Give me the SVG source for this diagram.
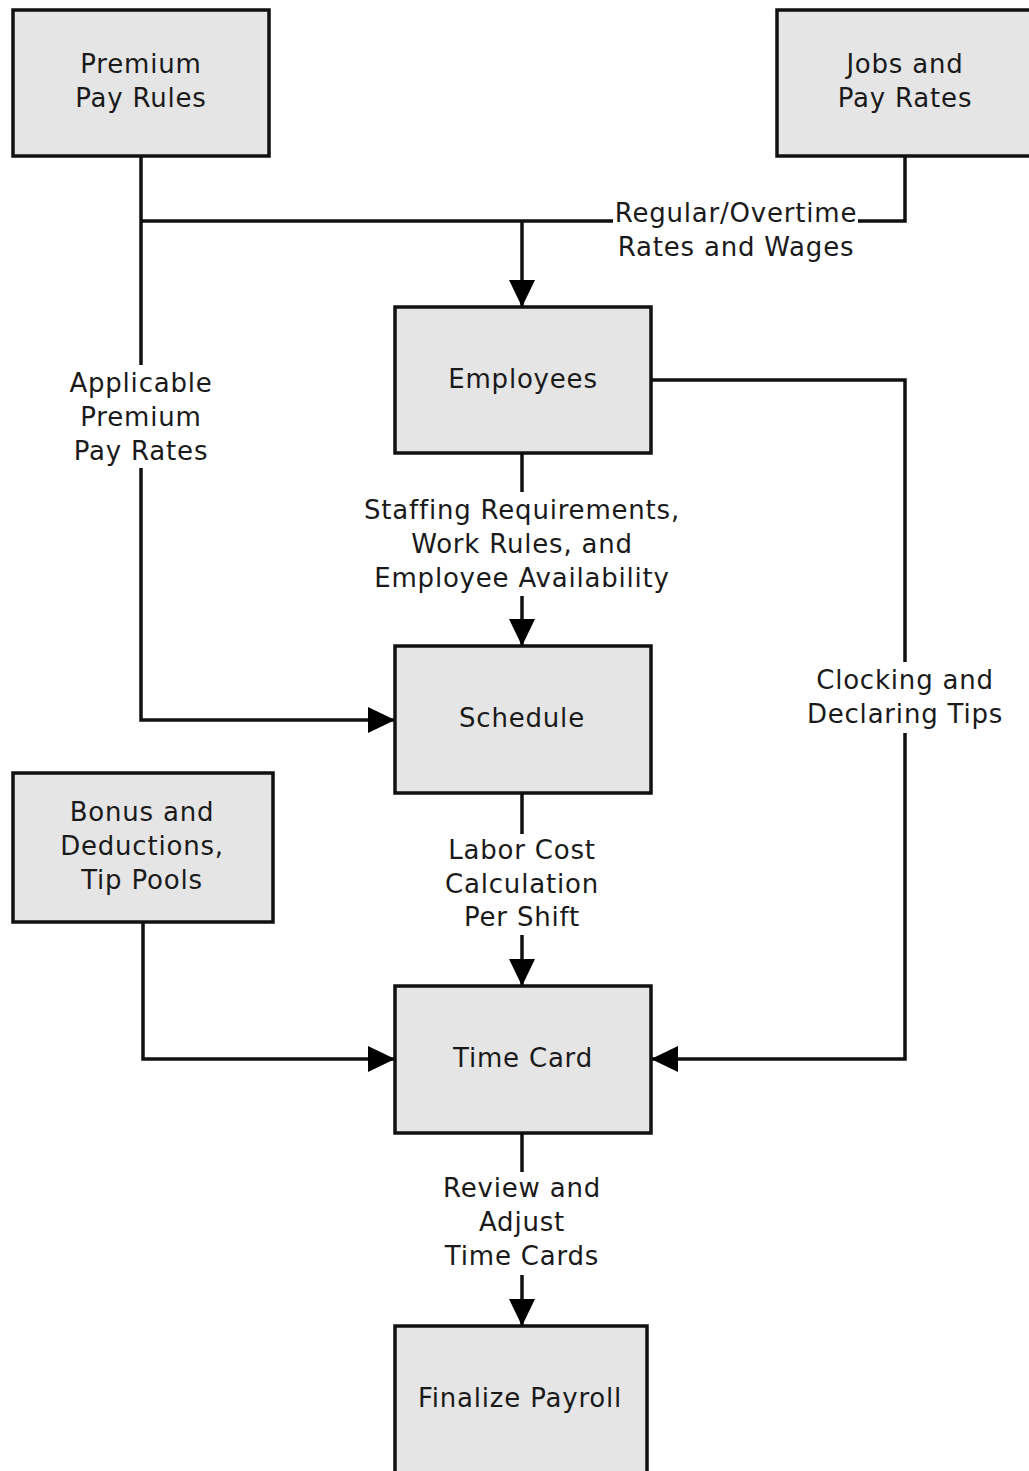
<svg xmlns="http://www.w3.org/2000/svg" width="1029" height="1471" viewBox="0 0 1029 1471">
<style>
.box{fill:#e5e5e5;stroke:#111;stroke-width:3.5}
.ln{fill:none;stroke:#111;stroke-width:3.5}
text{font-family:"DejaVu Sans",sans-serif;font-size:26px;fill:#1a1a1a;text-anchor:middle;letter-spacing:0.8px}
</style>
<defs>
<marker id="ah" markerUnits="userSpaceOnUse" markerWidth="28" markerHeight="28" viewBox="0 0 28 28" refX="27" refY="14" orient="auto">
<path d="M0,1 L27,14 L0,27 z" fill="#000"/>
</marker>
</defs>
<rect width="1029" height="1471" fill="#fff"/>
<g id="connectors">
<path class="ln" d="M141,156 V365"/>
<path class="ln" d="M141,468 V720 H395" marker-end="url(#ah)"/>
<path class="ln" d="M141,221 H613"/>
<path class="ln" d="M858,221 H905 V156"/>
<path class="ln" d="M522,221 V307" marker-end="url(#ah)"/>
<path class="ln" d="M522,453 V492"/>
<path class="ln" d="M522,596 V646" marker-end="url(#ah)"/>
<path class="ln" d="M651,380 H905 V662"/>
<path class="ln" d="M905,733 V1059 H651" marker-end="url(#ah)"/>
<path class="ln" d="M522,793 V834"/>
<path class="ln" d="M522,935 V986" marker-end="url(#ah)"/>
<path class="ln" d="M143,922 V1059 H395" marker-end="url(#ah)"/>
<path class="ln" d="M522,1133 V1172"/>
<path class="ln" d="M522,1275 V1326" marker-end="url(#ah)"/>
<text x="736" y="222">Regular/Overtime</text>
<text x="736" y="256">Rates and Wages</text>
<text x="141" y="392">Applicable</text>
<text x="141" y="426">Premium</text>
<text x="141" y="460">Pay Rates</text>
<text x="522" y="519">Staffing Requirements,</text>
<text x="522" y="553">Work Rules, and</text>
<text x="522" y="587">Employee Availability</text>
<text x="905" y="689">Clocking and</text>
<text x="905" y="723">Declaring Tips</text>
<text x="522" y="859">Labor Cost</text>
<text x="522" y="893">Calculation</text>
<text x="522" y="926">Per Shift</text>
<text x="522" y="1197">Review and</text>
<text x="522" y="1231">Adjust</text>
<text x="522" y="1265">Time Cards</text>
</g>
<g id="premium">
<rect class="box" x="13" y="10" width="256" height="146"/>
<text x="141" y="73">Premium</text>
<text x="141" y="107">Pay Rules</text>
</g>
<g id="jobs">
<rect class="box" x="777" y="10" width="260" height="146"/>
<text x="905" y="73">Jobs and</text>
<text x="905" y="107">Pay Rates</text>
</g>
<g id="employees">
<rect class="box" x="395" y="307" width="256" height="146"/>
<text x="523" y="388">Employees</text>
</g>
<g id="schedule">
<rect class="box" x="395" y="646" width="256" height="147"/>
<text x="522" y="727">Schedule</text>
</g>
<g id="bonus">
<rect class="box" x="13" y="773" width="260" height="149"/>
<text x="142" y="821">Bonus and</text>
<text x="142" y="855">Deductions,</text>
<text x="142" y="889">Tip Pools</text>
</g>
<g id="timecard">
<rect class="box" x="395" y="986" width="256" height="147"/>
<text x="523" y="1067">Time Card</text>
</g>
<g id="finalize">
<rect class="box" x="395" y="1326" width="252" height="160"/>
<text x="520" y="1407">Finalize Payroll</text>
</g>
</svg>
